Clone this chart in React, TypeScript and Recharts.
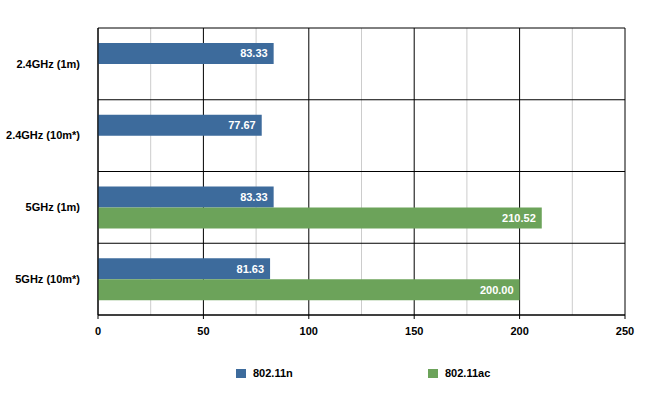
import { BarChart, Bar, XAxis, YAxis, CartesianGrid, LabelList } from 'recharts'

const CATEGORIES = ['2.4GHz (1m)', '2.4GHz (10m*)', '5GHz (1m)', '5GHz (10m*)']
const SERIES_NAMES = ['802.11n', '802.11ac']
const N_VALUES = [83.33, 77.67, 83.33, 81.63]
const AC_VALUES: (number | null)[] = [null, null, 210.52, 200.0]
const MAJOR_TICKS = [0, 50, 100, 150, 200, 250]
const MINOR_TICKS = [25, 75, 125, 175, 225]
const X_MAX = 250

const BLUE = '#3D6B9C'
const GREEN = '#6CA35A'
const SERIES_COLORS = [BLUE, GREEN]
const FONT = '"Liberation Sans", Arial, sans-serif'

const data = CATEGORIES.map((name, i) => ({ name, n: N_VALUES[i], ac: AC_VALUES[i] }))

const fmt = (v: any) => (v == null ? '' : Number(v).toFixed(2))

function CatTick({ x, y, payload }: any) {
  return (
    <text x={x} y={y} dy="0.35em" textAnchor="end" fontSize={11} fontWeight={700}
      fill="#000" fontFamily={FONT}>
      {payload.value}
    </text>
  )
}

export default function App() {
  return (
    <div style={{ position: 'absolute', left: 0, top: 0, width: 650, height: 399, background: 'white' }}>
      <BarChart
        width={650} height={399} data={data} layout="vertical"
        margin={{ top: 28, right: 25, bottom: 54, left: 0 }}
        barSize={21} barGap={0}
      >
        {/* minor grid */}
        <CartesianGrid
          horizontal={false} stroke="#cccccc"
          verticalCoordinatesGenerator={({ offset }: any) =>
            MINOR_TICKS.map(v => offset.left + (v / X_MAX) * offset.width)}
        />
        {/* major grid + category separators */}
        <CartesianGrid
          stroke="#000000"
          horizontalCoordinatesGenerator={({ offset }: any) =>
            [0, ...CATEGORIES.map((_, i) => i + 1)].map(i => offset.top + (i * offset.height) / CATEGORIES.length)}
        />
        <XAxis
          type="number" domain={[0, X_MAX]} ticks={MAJOR_TICKS} height={30}
          axisLine={{ stroke: '#000' }} tickLine={{ stroke: '#000' }} tickSize={4} tickMargin={8}
          tick={{ fontSize: 11, fontWeight: 700, fill: '#000', fontFamily: FONT }}
        />
        <YAxis
          type="category" dataKey="name" width={98}
          axisLine={{ stroke: '#000' }} tickLine={false} tickSize={0} tickMargin={18}
          tick={<CatTick />}
        />
        <Bar dataKey="n" name={SERIES_NAMES[0]} fill={BLUE} isAnimationActive={false}>
          <LabelList dataKey="n" position="insideRight" formatter={fmt} offset={6}
            style={{ fill: '#fff', fontSize: 11, fontWeight: 700, fontFamily: FONT }} />
        </Bar>
        <Bar dataKey="ac" name={SERIES_NAMES[1]} fill={GREEN} isAnimationActive={false}>
          <LabelList dataKey="ac" position="insideRight" formatter={fmt} offset={6}
            style={{ fill: '#fff', fontSize: 11, fontWeight: 700, fontFamily: FONT }} />
        </Bar>
      </BarChart>
      {/* legend */}
      <div style={{
        position: 'absolute', left: 236, top: 367, display: 'flex',
        fontFamily: FONT, fontSize: 11, fontWeight: 700, color: '#000',
      }}>
        {SERIES_NAMES.map((s, i) => (
          <div key={s} style={{ width: 192, display: 'flex', alignItems: 'center' }}>
            <span style={{ width: 10, height: 9, background: SERIES_COLORS[i], display: 'inline-block', marginRight: 7 }} />
            <span>{s}</span>
          </div>
        ))}
      </div>
    </div>
  )
}
